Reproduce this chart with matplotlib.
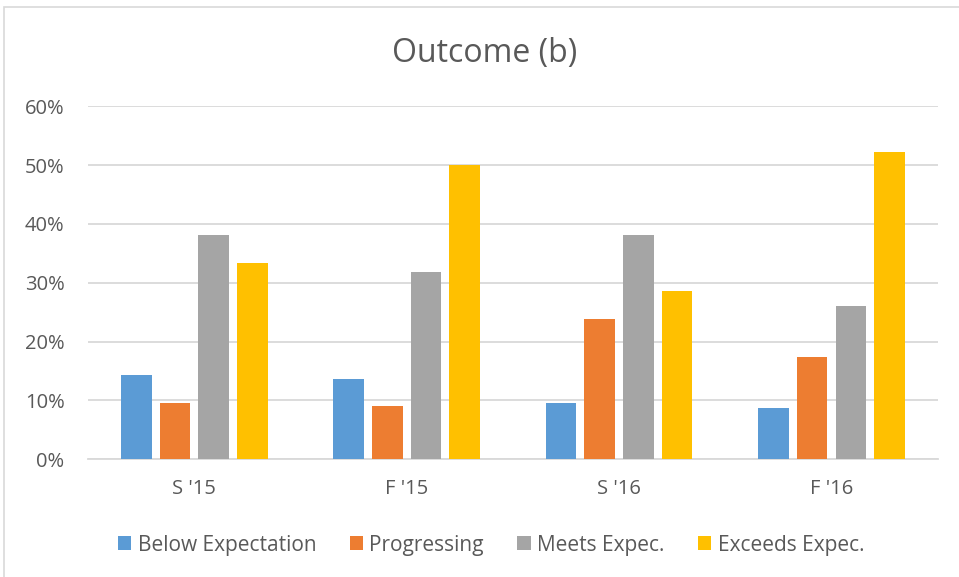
import matplotlib.pyplot as plt
import numpy as np
from matplotlib.patches import Rectangle
from matplotlib.ticker import PercentFormatter

plt.rcParams['font.family'] = ['Open Sans', 'DejaVu Sans']

terms = ["S '15", "F '15", "S '16", "F '16"]
series = ["Below Expectation", "Progressing", "Meets Expec.", "Exceeds Expec."]
below = [0.143, 0.136, 0.095, 0.087]
progressing = [0.095, 0.091, 0.238, 0.174]
meets = [0.381, 0.318, 0.381, 0.261]
exceeds = [0.333, 0.500, 0.286, 0.522]
colors = ["#5B9BD5", "#ED7D31", "#A5A5A5", "#FFC000"]

txt = "#595959"
grid = "#D9D9D9"

fig = plt.figure(figsize=(9.59, 5.77), dpi=100)
ax = fig.add_axes([0.0918, 0.204, 0.886, 0.612])

# light frame around the whole chart like Excel
fig.patches.append(Rectangle((0.004, -0.02), 1.2, 1.008, transform=fig.transFigure,
                             fill=False, edgecolor=grid, linewidth=1.2))

x = np.arange(len(terms))
step = 0.182
width = 0.144
for i, (vals, name) in enumerate(zip([below, progressing, meets, exceeds], series)):
    ax.bar(x + (i - 1.5) * step, vals, width, color=colors[i], label=name, zorder=3)

ax.set_xlim(-0.5, 3.5)
ax.set_ylim(0, 0.6)
ax.set_yticks(np.arange(0, 0.61, 0.1))
ax.yaxis.set_major_formatter(PercentFormatter(1.0, decimals=0))
ax.set_xticks(x)
ax.set_xticklabels(terms)
ax.grid(axis='y', color=grid, linewidth=1.3, zorder=0)
for s in ['top', 'right', 'left']:
    ax.spines[s].set_visible(False)
ax.spines['bottom'].set_color(grid)
ax.spines['bottom'].set_linewidth(1.3)
ax.tick_params(axis='both', length=0, colors=txt, labelsize=14.5)
ax.tick_params(axis='y', pad=17)
ax.tick_params(axis='x', pad=14)

fig.text(0.505, 0.908, "Outcome (b)", ha='center', va='center', fontsize=23, color=txt)

leg = fig.legend(loc='center', bbox_to_anchor=(0.512, 0.055), ncol=4, frameon=False,
                 fontsize=15, handlelength=0.65, handleheight=0.65, handletextpad=0.3,
                 columnspacing=1.6)
for t in leg.get_texts():
    t.set_color(txt)

fig.savefig("out.png", dpi=100)
